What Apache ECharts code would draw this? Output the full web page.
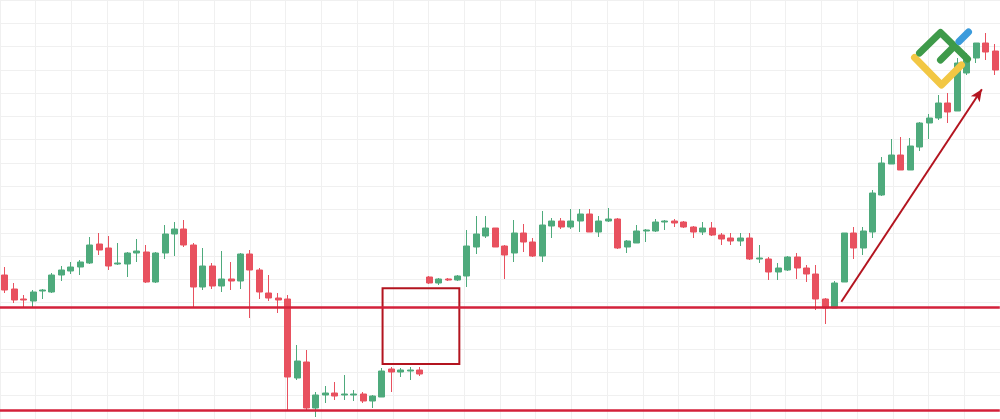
<!DOCTYPE html>
<html><head><meta charset="utf-8">
<script src="https://cdn.jsdelivr.net/npm/echarts@6/dist/echarts.min.js"></script>
<style>html,body{margin:0;padding:0;background:#fff;overflow:hidden}#c{width:1000px;height:419px}</style>
</head><body><div id="c"></div>
<script>
// Price data (arbitrary price units)
const opens = [145,131,121,119,129,128,145,149,153,157,
  176,172,156,156,167,168,138,167,186,191,
  175,133,154,134,141,139,166,150,127,122,
  121,42,58,12,25,27,25,25,26,19,
  23,51,48,49,50,143,137,141,140,144,
  173,184,192,174,167,187,178,164,194,199,
  193,199,206,188,199,201,173,177,189,189,
  198,199,198,193,188,192,185,182,179,182,
  161,161,148,150,163,152,146,121,112,138,
  187,172,188,225,256,265,250,273,297,302,
  317,309,347,362,377,369];
const closes = [130,120,120,128,130,145,150,153,158,175,
  170,154,157,167,169,138,167,186,191,175,
  133,154,134,141,139,166,150,128,122,120,
  43,59,12,25,27,24,26,26,19,24,
  49,48,50,50,46,137,141,140,144,174,
  186,192,173,165,187,178,164,195,199,193,
  199,206,188,199,201,172,179,189,190,198,
  199,197,193,188,192,185,181,179,182,161,
  162,148,152,163,152,146,121,112,137,187,
  172,189,227,257,265,250,274,297,302,317,
  308,357,362,377,368,350];
const lows = [127,117,113,113,121,127,139,146,145,156,
  165,150,155,143,158,137,137,161,164,173,
  112,130,131,128,130,131,102,121,119,107,
  10,40,10,3,17,20,20,19,17,12,
  23,28,43,40,44,136,135,139,139,133,
  166,182,173,141,158,168,163,158,182,191,
  191,188,188,183,198,171,167,177,178,188,
  190,193,192,182,185,184,175,175,174,160,
  157,140,140,149,141,138,110,96,112,138,
  161,165,182,224,256,250,250,269,281,300,
  297,309,345,357,360,345];
const highs = [153,137,125,130,131,147,154,158,160,183,
  187,184,177,168,181,175,168,195,198,200,
  177,172,157,169,158,167,170,152,145,127,
  125,75,70,28,34,38,45,30,28,25,
  52,53,52,53,53,144,142,142,145,190,
  204,204,192,175,200,196,182,209,202,202,
  211,211,211,204,212,202,180,195,191,201,
  200,201,199,194,198,198,187,187,187,187,
  175,163,157,164,167,155,155,122,139,187,
  193,193,230,263,281,283,282,298,306,325,
  327,362,367,377,387,376];
const categories = opens.map((_, i) => String(i + 1));

// Annotations in data space: [candle index, price]
const levels = [112.3, 9.3];
const boxCorners = [[40.06, 131.7], [48.2, 56]];
const arrowEnds = [[88.7, 118.3], [103.6, 330.7]];

const candles = opens.map((o, i) => [o, closes[i], lows[i], highs[i]]);
const GREEN = '#4eaa7c', RED = '#e8515f';

const chart = echarts.init(document.getElementById('c'), null, {renderer: 'canvas'});
chart.setOption({
  animation: false,
  backgroundColor: '#ffffff',
  grid: [
    {left: -1.4, top: 0, width: 1001.2, height: 419, containLabel: false},
    {left: -23.8, top: -0.73, width: 1058.3, height: 421.74, containLabel: false}
  ],
  xAxis: [
    {type: 'category', data: categories, gridIndex: 0, boundaryGap: true,
     axisLine: {show: false}, axisTick: {show: false}, axisLabel: {show: false}, splitLine: {show: false}},
    {type: 'value', gridIndex: 0, min: -0.5, max: 105.5, show: false, splitLine: {show: false}},
    {type: 'value', gridIndex: 1, min: 0, max: 28, interval: 1,
     axisLine: {show: false}, axisTick: {show: false}, axisLabel: {show: false},
     splitLine: {show: true, lineStyle: {color: '#f0f0f0', width: 1}}}
  ],
  yAxis: [
    {type: 'value', gridIndex: 0, min: 1, max: 420, show: false, splitLine: {show: false}},
    {type: 'value', gridIndex: 1, min: 0, max: 18, interval: 1,
     axisLine: {show: false}, axisTick: {show: false}, axisLabel: {show: false},
     splitLine: {show: true, lineStyle: {color: '#f0f0f0', width: 1}}}
  ],
  series: [
    {
      type: 'candlestick', xAxisIndex: 0, yAxisIndex: 0, data: candles, barWidth: 6.5,
      itemStyle: {color: GREEN, color0: RED, borderColor: GREEN, borderColor0: RED, borderWidth: 1}
    },
    {
      type: 'line', xAxisIndex: 1, yAxisIndex: 0, data: [], z: 5,
      markLine: {
        silent: true, symbol: 'none', animation: false,
        label: {show: false},
        lineStyle: {color: '#d3213a', width: 2.5, type: 'solid'},
        data: levels.map(v => ({yAxis: v}))
      }
    },
    {
      type: 'line', xAxisIndex: 1, yAxisIndex: 0, data: [], z: 6,
      markArea: {
        silent: true, label: {show: false},
        itemStyle: {color: 'rgba(0,0,0,0)', borderColor: '#b3141f', borderWidth: 2},
        data: [[{coord: boxCorners[0]}, {coord: boxCorners[1]}]]
      },
      markLine: {
        silent: true, symbol: ['none', 'arrow'], symbolSize: [8, 12], animation: false,
        label: {show: false},
        lineStyle: {color: '#b3141f', width: 2, type: 'solid'},
        data: [[{coord: arrowEnds[0]}, {coord: arrowEnds[1]}]]
      }
    }
  ],
  graphic: [
    {type: 'polyline', z: 100, shape: {points: [[914.5, 57.5], [941.5, 85], [961.5, 65]]},
     style: {stroke: '#f2c744', lineWidth: 7, fill: null, lineCap: 'round', lineJoin: 'round'}},
    {type: 'polyline', z: 101, shape: {points: [[919.5, 53], [940.5, 32.5], [967.5, 59]]},
     style: {stroke: '#3e9a4a', lineWidth: 7, fill: null, lineCap: 'round', lineJoin: 'round'}},
    {type: 'polyline', z: 101, shape: {points: [[940.5, 60], [953.5, 47]]},
     style: {stroke: '#3e9a4a', lineWidth: 7, fill: null, lineCap: 'round', lineJoin: 'round'}},
    {type: 'polyline', z: 101, shape: {points: [[959, 41.5], [968.5, 32]]},
     style: {stroke: '#3b9bdc', lineWidth: 7, fill: null, lineCap: 'round', lineJoin: 'round'}}
  ]
});
</script>
</body></html>
